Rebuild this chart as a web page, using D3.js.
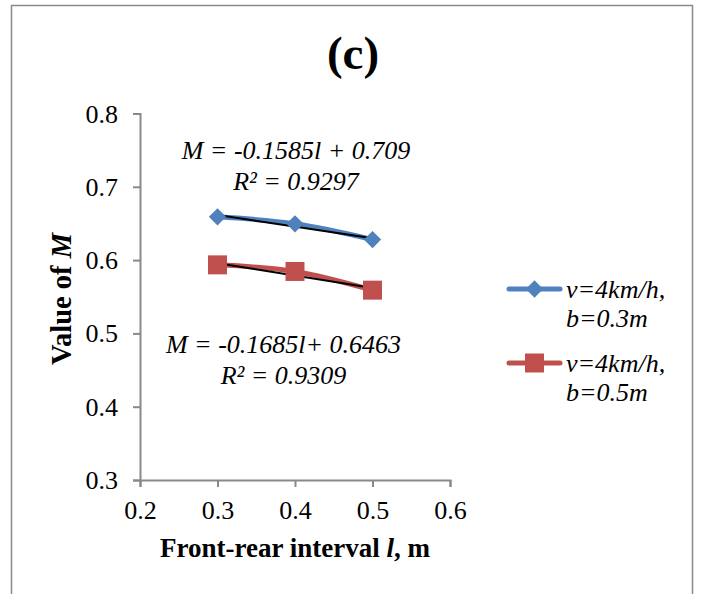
<!DOCTYPE html>
<html>
<head>
<meta charset="utf-8">
<script src="https://cdn.jsdelivr.net/npm/d3@7"></script>
<style>
  body { margin: 0; background: #fff; }
</style>
</head>
<body>
<svg id="chart" width="702" height="594"></svg>
<script>
// Chart data
const intervals = [0.3, 0.4, 0.5];
const mNarrow = [0.659, 0.6495, 0.628];   // v=4km/h, b=0.3m
const mWide = [0.5935, 0.5845, 0.559];    // v=4km/h, b=0.5m
const fitSlopes = [-0.1585, -0.1685];
const fitIntercepts = [0.709, 0.6463];
const xTicks = [0.2, 0.3, 0.4, 0.5, 0.6];
const yTicks = [0.3, 0.4, 0.5, 0.6, 0.7, 0.8];
const seriesNames = [["v=4km/h,", "b=0.3m"], ["v=4km/h,", "b=0.5m"]];
const eqLabels = [["M = -0.1585l + 0.709", "R² = 0.9297"], ["M = -0.1685l+ 0.6463", "R² = 0.9309"]];

const FONT = "Liberation Serif";
const svg = d3.select("#chart");
const axisColor = "#898989";
const colors = ["#4F81BD", "#C0504D"];

// outer chart frame (bottom edge runs off the picture)
svg.append("path")
    .attr("d", "M11.5,700 V5.5 H692.5 V700")
    .attr("fill", "none").attr("stroke", "#898989").attr("stroke-width", 1.5);

const x = d3.scaleLinear().domain([0.2, 0.6]).range([140, 450]);
const y = d3.scaleLinear().domain([0.3, 0.8]).range([480, 113.5]);

// axes
const xAxis = svg.append("g").attr("transform", "translate(0,480)")
    .call(d3.axisBottom(x).tickValues(xTicks).tickSize(7).tickFormat(d3.format(".1f")));
const yAxis = svg.append("g").attr("transform", "translate(140,0)")
    .call(d3.axisLeft(y).tickValues(yTicks).tickSize(7).tickFormat(d3.format(".1f")));
[xAxis, yAxis].forEach(g => {
    g.attr("font-family", FONT).attr("font-size", 26);
    g.select(".domain").attr("stroke", axisColor).attr("stroke-width", 2);
    g.selectAll(".tick line").attr("stroke", axisColor).attr("stroke-width", 2);
    g.selectAll(".tick text").attr("fill", "#000")
        .style("font-family", FONT).style("font-size", "26px");
});
xAxis.selectAll(".tick text").attr("y", 39).attr("dy", null);
yAxis.selectAll(".tick text").attr("x", -22).attr("dy", "0.33em");

// helper for serif text
function label(sel, px) {
    return sel.append("text").style("font-family", FONT).style("font-size", px + "px");
}

// title and axis titles
label(svg, 47).attr("x", 353).attr("y", 69).attr("text-anchor", "middle")
    .style("font-weight", "bold").text("(c)");

const xl = label(svg, 27).attr("x", 295).attr("y", 557).attr("text-anchor", "middle")
    .style("font-weight", "bold");
xl.append("tspan").text("Front-rear interval ");
xl.append("tspan").style("font-style", "italic").text("l");
xl.append("tspan").text(", m");

const yl = label(svg, 28.5).attr("transform", "translate(71,299) rotate(-90)")
    .attr("text-anchor", "middle").style("font-weight", "bold");
yl.append("tspan").text("Value of ");
yl.append("tspan").style("font-style", "italic").text("M");

// series
const seriesData = [mNarrow, mWide];
const line = d3.line().x(d => x(d[0])).y(d => y(d[1])).curve(d3.curveCatmullRom.alpha(0.5));

seriesData.forEach((vals, i) => {
    const pts = intervals.map((l, k) => [l, vals[k]]);
    svg.append("path").datum(pts).attr("d", line)
        .attr("fill", "none").attr("stroke", colors[i]).attr("stroke-width", 5)
        .attr("stroke-linecap", "round");
});

// trend lines
fitSlopes.forEach((s, i) => {
    const l0 = d3.min(intervals), l1 = d3.max(intervals);
    svg.append("line")
        .attr("x1", x(l0)).attr("y1", y(s * l0 + fitIntercepts[i]))
        .attr("x2", x(l1)).attr("y2", y(s * l1 + fitIntercepts[i]))
        .attr("stroke", "#000").attr("stroke-width", 2);
});

// markers
const diamond = d3.symbol().type(d3.symbolDiamond2).size(190);
const square = d3.symbol().type(d3.symbolSquare).size(361);
svg.selectAll(".m0").data(intervals).join("path")
    .attr("transform", (d, k) => `translate(${x(d)},${y(mNarrow[k])})`)
    .attr("d", diamond).attr("fill", colors[0]);
svg.selectAll(".m1").data(intervals).join("path")
    .attr("transform", (d, k) => `translate(${x(d)},${y(mWide[k])})`)
    .attr("d", square).attr("fill", colors[1]);

// equations
const eqPos = [[296, 159], [283.5, 353]];
eqLabels.forEach((lines, i) => {
    lines.forEach((t, j) => {
        label(svg, 26).attr("x", eqPos[i][0]).attr("y", eqPos[i][1] + j * 31)
            .attr("text-anchor", "middle").style("font-style", "italic")
            .text(t);
    });
});

// legend
const legendY = [289, 363];
seriesNames.forEach((name, i) => {
    const g = svg.append("g").attr("transform", `translate(0,${legendY[i]})`);
    g.append("line").attr("x1", 509).attr("x2", 560).attr("y1", 0).attr("y2", 0)
        .attr("stroke", colors[i]).attr("stroke-width", 5).attr("stroke-linecap", "round");
    g.append("path").attr("transform", "translate(534.5,0)").attr("d", i ? square : diamond)
        .attr("fill", colors[i]);
    name.forEach((t, j) => {
        label(g, 26).attr("x", 566).attr("y", 9 + j * 29)
            .style("font-style", "italic").text(t);
    });
});
</script>
</body>
</html>
